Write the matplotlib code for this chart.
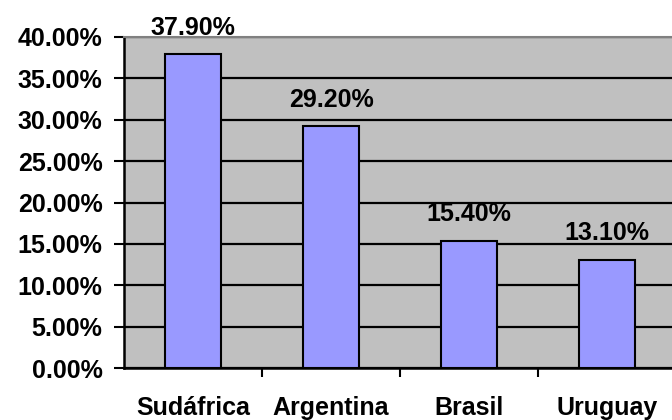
import matplotlib
matplotlib.use("Agg")
import matplotlib.pyplot as plt
from matplotlib.ticker import FuncFormatter

plt.rcParams['font.family'] = ['Liberation Sans', 'DejaVu Sans']
plt.rcParams['font.weight'] = 'bold'

categories = ["Sudáfrica", "Argentina", "Brasil", "Uruguay"]
values = [37.9, 29.2, 15.4, 13.1]
value_labels = ["37.90%", "29.20%", "15.40%", "13.10%"]
yticks = [0, 5, 10, 15, 20, 25, 30, 35, 40]

FS = 18

fig = plt.figure(figsize=(6.72, 4.2), dpi=100)
ax = fig.add_axes([124 / 672, 1 - 368 / 420, 552 / 672, 331 / 420])
ax.set_facecolor("#C0C0C0")

x = range(len(categories))
ax.bar(x, values, width=0.4, color="#9999FF", edgecolor="black", linewidth=1.5, zorder=3)

for xi, v, lab in zip(x, values, value_labels):
    ax.annotate(lab, (xi, v), xytext=(0, 14), textcoords="offset points",
                ha="center", va="baseline", fontsize=FS, fontweight="bold", zorder=4,
                annotation_clip=False)

ax.set_xlim(-0.5, len(categories) - 0.5)
ax.set_ylim(0, 40)
ax.set_yticks(yticks)
ax.yaxis.set_major_formatter(FuncFormatter(lambda v, p: f"{v:.2f}%"))
ax.yaxis.grid(True, color="black", linewidth=1.6, zorder=1)
ax.set_axisbelow(True)

ax.set_xticks([0.5, 1.5, 2.5])
ax.set_xticklabels([])
ax.tick_params(axis="x", direction="out", length=6.5, width=1.5, color="black")
ax.tick_params(axis="y", direction="out", length=7.5, width=1.5, color="black",
               labelsize=FS, pad=8)
for lab in ax.get_yticklabels():
    lab.set_fontweight("bold")

for xi, c in zip(x, categories):
    ax.text(xi, -5.7, c, ha="center", va="baseline", fontsize=FS, fontweight="bold",
            transform=ax.transData, clip_on=False)

for s in ["left", "bottom"]:
    ax.spines[s].set_color("black")
    ax.spines[s].set_linewidth(1.8)
ax.spines["top"].set_color("#808080")
ax.spines["top"].set_linewidth(1.5)
ax.spines["right"].set_visible(False)

fig.savefig("out.png", dpi=100)
